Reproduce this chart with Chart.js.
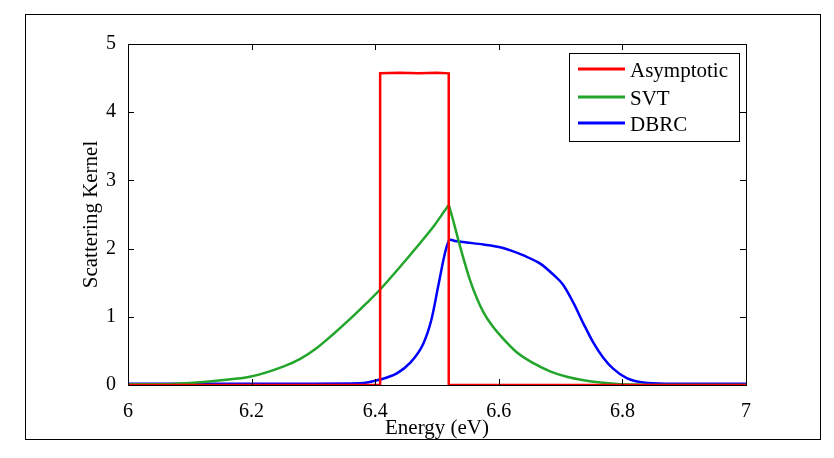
<!DOCTYPE html>
<html>
<head>
<meta charset="utf-8">
<script src="https://cdn.jsdelivr.net/npm/chart.js@4/dist/chart.umd.min.js"></script>
<style>
  body { margin: 0; background: #fff; }
  canvas { display: block; }
</style>
</head>
<body>
<canvas id="kernelChart" width="834" height="458"></canvas>
<script>
const seriesNames = ["Asymptotic", "SVT", "DBRC"];
const seriesColors = ["#ff0000", "#22a52a", "#0000ff"];

const xTicks = [6, 6.2, 6.4, 6.6, 6.8, 7];
const yTicks = [0, 1, 2, 3, 4, 5];

// Asymptotic kernel: rectangular step
const asymEnergy = [6.0, 6.408, 6.408, 6.44, 6.47, 6.50, 6.519, 6.519, 7.0];
const asymValues = [0, 0, 4.57, 4.58, 4.57, 4.58, 4.57, 0, 0];

// SVT
const svtEnergy = [6.0, 6.05, 6.10, 6.15, 6.197, 6.251, 6.278, 6.305, 6.332, 6.359, 6.386,
  6.408, 6.44, 6.467, 6.494, 6.512, 6.517, 6.519, 6.521, 6.526, 6.535, 6.543, 6.553, 6.565,
  6.575, 6.59, 6.602, 6.629, 6.656, 6.683, 6.71, 6.737, 6.765, 6.791, 6.83, 6.88, 7.0];
const svtValues = [0.01, 0.01, 0.03, 0.07, 0.12, 0.27, 0.38, 0.54, 0.745, 0.965, 1.20,
  1.40, 1.73, 2.02, 2.32, 2.55, 2.615, 2.64, 2.58, 2.42, 2.11, 1.85, 1.55, 1.26,
  1.07, 0.86, 0.73, 0.48, 0.32, 0.20, 0.12, 0.07, 0.035, 0.015, 0.005, 0.0, 0.0];

// DBRC
const dbrcEnergy = [6.0, 6.30, 6.375, 6.408, 6.435, 6.456, 6.478, 6.491, 6.502, 6.513,
  6.519, 6.522, 6.53, 6.548, 6.575, 6.602, 6.620, 6.640, 6.667, 6.688, 6.704, 6.721, 6.737,
  6.753, 6.769, 6.785, 6.807, 6.834, 6.87, 7.0];
const dbrcValues = [0.02, 0.02, 0.025, 0.08, 0.17, 0.32, 0.61, 0.96, 1.45, 1.94,
  2.11, 2.13, 2.11, 2.09, 2.06, 2.02, 1.97, 1.90, 1.78, 1.62, 1.47, 1.20, 0.90,
  0.62, 0.40, 0.24, 0.10, 0.035, 0.02, 0.02];

function toPoints(xs, ys) {
  return xs.map((x, i) => ({ x: x, y: ys[i] }));
}

const serif = "'Liberation Serif', 'Times New Roman', serif";

const framePlugin = {
  id: "framePlugin",
  beforeDraw(chart) {
    const ctx = chart.ctx;
    ctx.save();
    ctx.fillStyle = "#fff";
    ctx.fillRect(0, 0, chart.width, chart.height);
    ctx.strokeStyle = "#000";
    ctx.lineWidth = 1;
    ctx.strokeRect(25.5, 14.5, 795, 425);
    ctx.restore();
  },
  afterDatasetsDraw(chart) {
    const ctx = chart.ctx;
    const a = chart.chartArea;
    const xs = chart.scales.x;
    const ys = chart.scales.y;
    ctx.save();
    ctx.strokeStyle = "#000";
    ctx.lineWidth = 1;
    ctx.strokeRect(Math.round(a.left) + 0.5, Math.round(a.top) + 0.5,
      Math.round(a.right - a.left), Math.round(a.bottom - a.top));

    // inward tick marks on all four sides
    const len = 6;
    ctx.beginPath();
    xTicks.forEach(v => {
      const px = Math.round(xs.getPixelForValue(v)) + 0.5;
      ctx.moveTo(px, a.bottom);
      ctx.lineTo(px, a.bottom - len);
      ctx.moveTo(px, a.top);
      ctx.lineTo(px, a.top + len);
    });
    yTicks.forEach(v => {
      const py = Math.round(ys.getPixelForValue(v)) + 0.5;
      ctx.moveTo(a.left, py);
      ctx.lineTo(a.left + len, py);
      ctx.moveTo(a.right, py);
      ctx.lineTo(a.right - len, py);
    });
    ctx.stroke();

    // legend box
    const bx = 569, by = 53, bw = 170, bh = 88;
    ctx.fillStyle = "#fff";
    ctx.fillRect(bx, by, bw, bh);
    ctx.strokeRect(bx + 0.5, by + 0.5, bw, bh);
    const rows = [69, 97, 123];
    ctx.font = "21px " + serif;
    ctx.textBaseline = "middle";
    ctx.textAlign = "left";
    chart.data.datasets.forEach((ds, i) => {
      ctx.strokeStyle = ds.borderColor;
      ctx.lineWidth = 3;
      ctx.beginPath();
      ctx.moveTo(578, rows[i]);
      ctx.lineTo(625, rows[i]);
      ctx.stroke();
      ctx.fillStyle = "#000";
      ctx.fillText(ds.label, 630, rows[i] + 2);
    });
    ctx.restore();
  }
};

new Chart(document.getElementById("kernelChart"), {
  type: "line",
  data: {
    datasets: [
      {
        label: seriesNames[0],
        data: toPoints(asymEnergy, asymValues),
        borderColor: seriesColors[0],
        borderWidth: 2.5,
        pointRadius: 0,
        tension: 0
      },
      {
        label: seriesNames[1],
        data: toPoints(svtEnergy, svtValues),
        borderColor: seriesColors[1],
        borderWidth: 2.5,
        pointRadius: 0,
        cubicInterpolationMode: "monotone"
      },
      {
        label: seriesNames[2],
        data: toPoints(dbrcEnergy, dbrcValues),
        borderColor: seriesColors[2],
        borderWidth: 2.5,
        pointRadius: 0,
        cubicInterpolationMode: "monotone"
      }
    ]
  },
  options: {
    responsive: false,
    animation: false,
    layout: { padding: { top: 44, right: 88, left: 0, bottom: 0 } },
    plugins: {
      legend: { display: false },
      tooltip: { enabled: false }
    },
    scales: {
      x: {
        type: "linear",
        min: 6,
        max: 7,
        afterFit: s => { s.height = 73; },
        afterBuildTicks: s => { s.ticks = xTicks.map(v => ({ value: v })); },
        grid: { display: false },
        border: { display: false },
        ticks: {
          color: "#000",
          padding: 7,
          maxRotation: 0,
          font: { family: serif, size: 20 },
          callback: v => String(+v.toFixed(1))
        },
        title: {
          display: true,
          text: "Energy (eV)",
          color: "#000",
          font: { family: serif, size: 21 },
          padding: { top: 0, bottom: 17 }
        }
      },
      y: {
        min: 0,
        max: 5,
        afterFit: s => { s.width = 128; },
        afterBuildTicks: s => { s.ticks = yTicks.map(v => ({ value: v })); },
        grid: { display: false },
        border: { display: false },
        ticks: {
          color: "#000",
          padding: 4,
          font: { family: serif, size: 20 }
        },
        title: {
          display: true,
          text: "Scattering Kernel",
          color: "#000",
          font: { family: serif, size: 21 },
          padding: { top: 79, bottom: 0 }
        }
      }
    }
  },
  plugins: [framePlugin]
});
</script>
</body>
</html>
